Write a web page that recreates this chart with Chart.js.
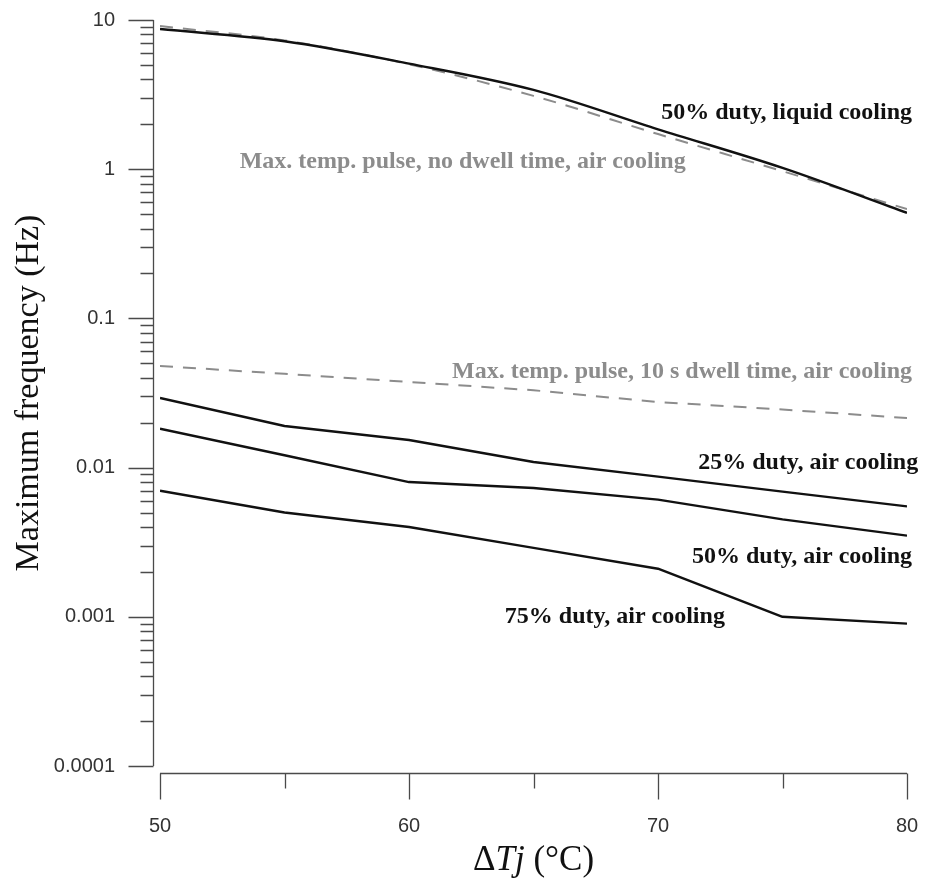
<!DOCTYPE html>
<html>
<head>
<meta charset="utf-8">
<script src="https://cdn.jsdelivr.net/npm/chart.js@4.4.1/dist/chart.umd.min.js"></script>
<style>
  html, body { margin: 0; padding: 0; background: #fff; }
  #wrap { width: 926px; height: 888px; }
</style>
</head>
<body>
<div id="wrap"><canvas id="freqChart"></canvas></div>
<script>
// Junction temperature swing, x categories (°C)
const deltaTj = [50, 55, 60, 65, 70, 75, 80];

// Maximum frequency (Hz)
const liquid50 = [8.7, 7.2, 5.1, 3.4, 1.85, 1.02, 0.51];
const pulseNoDwell = [9.1, 7.3, 5.05, 3.1, 1.72, 0.97, 0.54];
const pulse10sDwell = [0.048, 0.0425, 0.0375, 0.033, 0.0275, 0.0245, 0.0215];
const air25 = [0.0293, 0.019, 0.0153, 0.0109, 0.0087, 0.0069, 0.0055];
const air50 = [0.0182, 0.0121, 0.008, 0.0073, 0.0061, 0.0045, 0.0035];
const air75 = [0.007, 0.005, 0.004, 0.0029, 0.0021, 0.001, 0.0009];

// tick labels
const xTicks = [50, 60, 70, 80];
const xMinorTicks = [55, 65, 75];
const yTicks = [0.0001, 0.001, 0.01, 0.1, 1, 10];
const yTickLabels = ['0.0001', '0.001', '0.01', '0.1', '1', '10'];

// minor log ticks 2..9 in every decade
const yMinorTicks = [];
yTicks.slice(0, -1).forEach(d => {
  for (let k = 2; k <= 9; k++) yMinorTicks.push(k * d);
});

// in-plot curve labels, anchored in data units
const curveLabels = [
  { text: '50% duty, liquid cooling', x: 80.2, y: 2.38, align: 'right', color: '#111' },
  { text: 'Max. temp. pulse, no dwell time, air cooling', x: 53.2, y: 1.12, align: 'left', color: '#8c8c8c' },
  { text: 'Max. temp. pulse, 10 s dwell time, air cooling', x: 80.2, y: 0.0438, align: 'right', color: '#8c8c8c' },
  { text: '25% duty, air cooling', x: 80.45, y: 0.0107, align: 'right', color: '#111' },
  { text: '50% duty, air cooling', x: 80.2, y: 0.00252, align: 'right', color: '#111' },
  { text: '75% duty, air cooling', x: 63.85, y: 0.001, align: 'left', color: '#111' }
];

function toPoints(values) {
  return deltaTj.map((t, i) => ({ x: t, y: values[i] }));
}

function solid(label, values) {
  return {
    label: label,
    data: toPoints(values),
    borderColor: '#111',
    borderWidth: 2.4,
    pointRadius: 0,
    fill: false
  };
}

function dashed(label, values) {
  return {
    label: label,
    data: toPoints(values),
    borderColor: '#8c8c8c',
    borderWidth: 2,
    borderDash: [13, 10],
    pointRadius: 0,
    fill: false
  };
}

// Axis lines, tick marks, curve labels and the x title, drawn the way the paper figure does it
const paperAxes = {
  id: 'paperAxes',
  afterDraw(chart) {
    const { ctx, chartArea } = chart;
    const xs = chart.scales.x;
    const ys = chart.scales.y;
    const axisX = Math.round(chartArea.left - 7) + 0.5;
    const axisY = Math.round(chartArea.bottom + 7) + 0.5;
    const snap = v => Math.round(v) + 0.5;

    ctx.save();
    ctx.strokeStyle = '#4a4a4a';
    ctx.lineWidth = 1.3;
    ctx.beginPath();
    // y axis
    ctx.moveTo(axisX, ys.getPixelForValue(10));
    ctx.lineTo(axisX, ys.getPixelForValue(0.0001));
    yTicks.forEach(v => {
      const py = snap(ys.getPixelForValue(v));
      ctx.moveTo(axisX - 25, py);
      ctx.lineTo(axisX, py);
    });
    yMinorTicks.forEach(v => {
      const py = snap(ys.getPixelForValue(v));
      ctx.moveTo(axisX - 13, py);
      ctx.lineTo(axisX, py);
    });
    // x axis
    ctx.moveTo(xs.getPixelForValue(50), axisY);
    ctx.lineTo(xs.getPixelForValue(80), axisY);
    xTicks.forEach(v => {
      const px = snap(xs.getPixelForValue(v));
      ctx.moveTo(px, axisY);
      ctx.lineTo(px, axisY + 26);
    });
    xMinorTicks.forEach(v => {
      const px = snap(xs.getPixelForValue(v));
      ctx.moveTo(px, axisY);
      ctx.lineTo(px, axisY + 15);
    });
    ctx.stroke();

    // curve labels
    ctx.font = 'bold 24px "Liberation Serif", "Times New Roman", serif';
    ctx.textBaseline = 'middle';
    curveLabels.forEach(l => {
      ctx.fillStyle = l.color;
      ctx.textAlign = l.align;
      ctx.fillText(l.text, xs.getPixelForValue(l.x), ys.getPixelForValue(l.y));
    });

    // x axis title: ΔTj (°C) with italic T and j
    const parts = [
      { t: 'Δ', f: '35px "Liberation Serif", serif' },
      { t: 'Tj', f: 'italic 35px "Liberation Serif", serif' },
      { t: ' (°C)', f: '35px "Liberation Serif", serif' }
    ];
    let total = 0;
    parts.forEach(p => { ctx.font = p.f; total += ctx.measureText(p.t).width; });
    let cx = (chartArea.left + chartArea.right) / 2 - total / 2;
    ctx.fillStyle = '#111';
    ctx.textAlign = 'left';
    ctx.textBaseline = 'alphabetic';
    parts.forEach(p => {
      ctx.font = p.f;
      ctx.fillText(p.t, cx, 870);
      cx += ctx.measureText(p.t).width;
    });
    ctx.restore();
  }
};

// the two top curves are smooth in the figure
const liquidSet = solid('50% duty, liquid cooling', liquid50);
liquidSet.cubicInterpolationMode = 'monotone';
const noDwellSet = dashed('Max. temp. pulse, no dwell time, air cooling', pulseNoDwell);
noDwellSet.cubicInterpolationMode = 'monotone';

const freqCtx = document.getElementById('freqChart');
const freqChart = new Chart(freqCtx, {
  type: 'line',
  data: {
    datasets: [
      liquidSet,
      noDwellSet,
      dashed('Max. temp. pulse, 10 s dwell time, air cooling', pulse10sDwell),
      solid('25% duty, air cooling', air25),
      solid('50% duty, air cooling', air50),
      solid('75% duty, air cooling', air75)
    ]
  },
  options: {
    responsive: true,
    maintainAspectRatio: false,
    animation: false,
    layout: {
      padding: { top: 20, right: 19, bottom: 0, left: 0 }
    },
    plugins: {
      legend: { display: false },
      tooltip: { enabled: false }
    },
    elements: {
      line: { tension: 0, borderCapStyle: 'butt', borderJoinStyle: 'round' }
    },
    scales: {
      x: {
        type: 'linear',
        min: 50,
        max: 80,
        afterBuildTicks: scale => { scale.ticks = xTicks.map(v => ({ value: v })); },
        afterFit: scale => { scale.height = 122; },
        grid: { display: true, drawOnChartArea: false, drawTicks: true, tickLength: 48, tickColor: 'rgba(0,0,0,0)' },
        border: { display: false },
        ticks: {
          padding: 0,
          color: '#333',
          font: { family: '"Liberation Sans", Arial, sans-serif', size: 20 },
          maxRotation: 0
        },
        title: { display: false }
      },
      y: {
        type: 'logarithmic',
        min: 0.0001,
        max: 10,
        afterBuildTicks: scale => { scale.ticks = yTicks.map(v => ({ value: v })); },
        afterFit: scale => { scale.width = 160; },
        grid: { display: true, drawOnChartArea: false, drawTicks: true, tickLength: 45, tickColor: 'rgba(0,0,0,0)' },
        border: { display: false },
        ticks: {
          padding: 0,
          color: '#333',
          font: { family: '"Liberation Sans", Arial, sans-serif', size: 20 },
          callback: function(value) {
            const i = yTicks.indexOf(value);
            return i >= 0 ? yTickLabels[i] : '';
          }
        },
        title: {
          display: true,
          text: 'Maximum frequency (Hz)',
          color: '#111',
          font: { family: '"Liberation Serif", "Times New Roman", serif', size: 34 },
          padding: { top: 9, bottom: 0 }
        }
      }
    }
  },
  plugins: [paperAxes]
});
</script>
</body>
</html>
